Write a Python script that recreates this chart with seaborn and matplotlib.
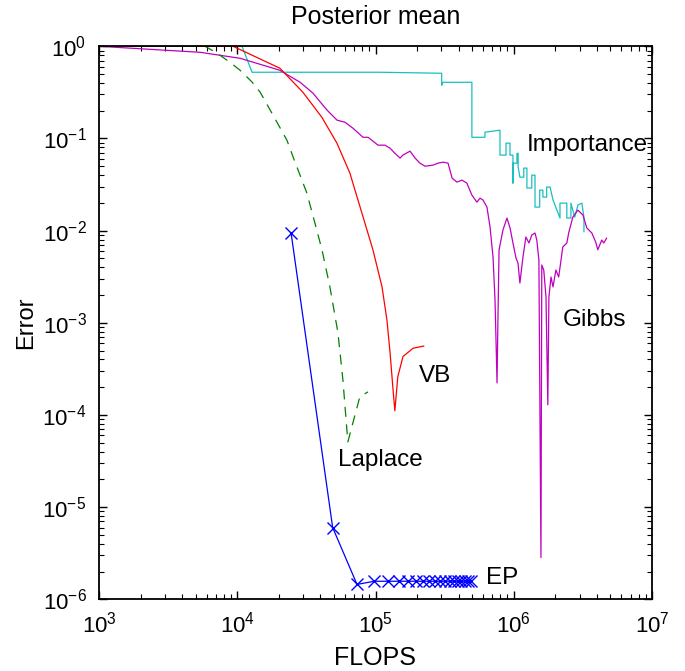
import matplotlib
matplotlib.use("Agg")
import matplotlib.pyplot as plt
from matplotlib.ticker import LogLocator, NullFormatter, FixedLocator
import seaborn as sns
import pandas as pd

# ---------------- data ----------------
ep_flops = [24500, 49000, 73500, 98000, 122500, 147000, 171500, 196000, 220500,
            245000, 269500, 294000, 318500, 343000, 367500, 392000, 416500,
            441000, 465500, 490000]
ep_err = [0.0095, 6.0e-6, 1.45e-6] + [1.57e-6] * 17

laplace_flops = [1000, 5860, 7160, 8870, 10470, 12780, 14640, 18150, 22850, 25350,
                 31900, 36450, 41000, 46800, 53500, 58100, 63100, 68600, 77100, 88200]
laplace_err = [1.0, 1.0, 0.84, 0.67, 0.55, 0.41, 0.318, 0.179, 0.096, 0.063,
               0.0255, 0.0121, 0.0062, 0.00245, 7.8e-4, 2.4e-4, 5.1e-5, 8.2e-5,
               1.58e-4, 1.78e-4]

vb_flops = [1000, 9330, 20350, 29800, 40900, 52600, 65300, 86700, 95800, 111500,
            121000, 127500, 133500, 138000, 145000, 158000, 187000, 224000]
vb_err = [1.0, 1.0, 0.578, 0.318, 0.17, 0.089, 0.042, 0.0102, 0.0062, 0.00245,
          1.07e-3, 4.7e-4, 2.0e-4, 1.11e-4, 2.6e-4, 4.3e-4, 5.3e-4, 5.6e-4]

imp_flops = [1000, 10830, 12800, 107500, 301000, 301000, 307000, 498000, 498000,
             619000, 619000, 795000, 795000, 879000, 879000, 939000, 939000,
             987000, 987000, 987000, 1.055e6, 1.055e6, 1.076e6, 1.076e6, 1.108e6,
             1.182e6, 1.182e6, 1.245e6, 1.245e6, 1.35e6, 1.35e6, 1.425e6, 1.425e6,
             1.54e6, 1.54e6, 1.625e6, 1.625e6, 1.73e6, 1.73e6, 1.83e6, 1.925e6,
             2.16e6, 2.16e6, 2.42e6, 2.42e6, 2.59e6, 2.59e6, 2.76e6, 2.91e6,
             3.11e6, 3.22e6, 3.22e6]
imp_err = [1.0, 1.0, 0.523, 0.523, 0.51, 0.378, 0.407, 0.407, 0.103,
           0.103, 0.117, 0.123, 0.066, 0.066, 0.089, 0.089, 0.066,
           0.066, 0.0328, 0.054, 0.054, 0.069, 0.069, 0.049, 0.038,
           0.038, 0.0477, 0.0477, 0.029, 0.029, 0.040, 0.040, 0.018,
           0.018, 0.0275, 0.0275, 0.0231, 0.0231, 0.0297, 0.0297, 0.0214,
           0.0137, 0.0199, 0.0199, 0.0137, 0.0137, 0.0199, 0.014, 0.0189,
           0.0199, 0.014, 0.0097]

gibbs_flops = [1000, 5380, 10500, 20300, 28500, 35300, 44600, 52700, 60200, 68800,
               81200, 88300, 104300, 116900, 127400, 137900, 150500, 157800,
               177800, 193600, 209300, 228300, 261000, 283000, 308500, 334800,
               358000, 388500, 422000, 458000, 498000, 541000, 570000, 599000,
               640000, 674000, 708000, 732000, 757000, 767000, 783000, 836000,
               893000, 940000, 987000, 1.038e6, 1.073e6, 1.108e6, 1.166e6,
               1.224e6, 1.288e6, 1.351e6, 1.425e6, 1.468e6, 1.52e6, 1.573e6,
               1.595e6, 1.648e6, 1.711e6, 1.764e6, 1.796e6, 1.86e6, 1.923e6,
               2.018e6, 2.113e6, 2.188e6, 2.262e6, 2.42e6, 2.505e6, 2.675e6,
               2.908e6, 3.163e6, 3.375e6, 3.672e6, 3.916e6, 4.054e6, 4.33e6,
               4.478e6, 4.70e6]
gibbs_err = [1.0, 0.861, 0.741, 0.55, 0.407, 0.31, 0.203, 0.158, 0.150, 0.129,
             0.103, 0.103, 0.0846, 0.0846, 0.0785, 0.0693, 0.0612, 0.066,
             0.0728, 0.0612, 0.054, 0.050, 0.0514, 0.054, 0.0553, 0.054,
             0.0372, 0.0336, 0.0353, 0.0328, 0.0243, 0.0204, 0.0225, 0.0215,
             0.018, 0.0109, 0.00518, 0.00177, 2.23e-4, 9.0e-4, 0.0062, 0.0102,
             0.0137, 0.0107, 0.00734, 0.00505, 0.00446, 0.0027, 0.00518,
             0.00853, 0.00734, 0.00896, 0.00942, 0.0079, 0.0048, 2.84e-6,
             0.00424, 0.00374, 0.00191, 1.29e-4, 0.00191, 0.00314, 0.00245,
             0.00374, 0.00314, 0.00457, 0.00664, 0.00734, 0.00966, 0.014,
             0.0167, 0.0148, 0.0107, 0.00942, 0.00752, 0.0062, 0.0079,
             0.00734, 0.0083]

labels = ["Importance", "Gibbs", "VB", "Laplace", "EP"]
label_x = [1.25e6, 2.27e6, 2.07e5, 5.36e4, 6.3e5]
label_y = [0.085, 0.00107, 2.65e-4, 3.25e-5, 1.7e-6]

x_major = [1e3, 1e4, 1e5, 1e6, 1e7]
y_major = [1e-6, 1e-5, 1e-4, 1e-3, 1e-2, 1e-1, 1e0]

title = "Posterior mean"
xlabel = "FLOPS"
ylabel = "Error"

# ---------------- style ----------------
sns.set_theme(style="white")
plt.rcParams["font.family"] = ["Liberation Sans", "DejaVu Sans"]
plt.rcParams["mathtext.fontset"] = "custom"
plt.rcParams["mathtext.rm"] = "Liberation Sans"
plt.rcParams["mathtext.it"] = "Liberation Sans:italic"
plt.rcParams["mathtext.bf"] = "Liberation Sans:bold"
plt.rcParams["xtick.color"] = "black"
plt.rcParams["ytick.color"] = "black"
plt.rcParams["text.color"] = "black"
plt.rcParams["axes.labelcolor"] = "black"

FS_TICK = 16
FS_TEXT = 17.5
fig = plt.figure(figsize=(6.85, 6.71), dpi=100)
ax = fig.add_axes([99 / 685, 1 - 599.3 / 671, (652 - 99) / 685, (599.3 - 46.3) / 671])

lw = 0.9
df_imp = pd.DataFrame({"x": imp_flops, "y": imp_err})
sns.lineplot(data=df_imp, x="x", y="y", ax=ax, sort=False, estimator=None,
             color=(0.1, 0.75, 0.75), lw=lw)
df_g = pd.DataFrame({"x": gibbs_flops, "y": gibbs_err})
sns.lineplot(data=df_g, x="x", y="y", ax=ax, sort=False, estimator=None,
             color=(0.75, 0.0, 0.75), lw=lw)
df_vb = pd.DataFrame({"x": vb_flops, "y": vb_err})
sns.lineplot(data=df_vb, x="x", y="y", ax=ax, sort=False, estimator=None,
             color=(1.0, 0.0, 0.0), lw=lw)
df_la = pd.DataFrame({"x": laplace_flops, "y": laplace_err})
sns.lineplot(data=df_la, x="x", y="y", ax=ax, sort=False, estimator=None,
             color=(0.0, 0.5, 0.0), lw=lw, linestyle=(0, (8, 6)))
df_ep = pd.DataFrame({"x": ep_flops, "y": ep_err})
sns.lineplot(data=df_ep, x="x", y="y", ax=ax, sort=False, estimator=None,
             color=(0.0, 0.0, 1.0), lw=lw, marker="x", markersize=8,
             markeredgewidth=1.0, markeredgecolor=(0.0, 0.0, 1.0))

ax.set_xscale("log")
ax.set_yscale("log")
ax.set_xlim(1e3, 1e7)
ax.set_ylim(1e-6, 1e0)
ax.xaxis.set_major_locator(FixedLocator(x_major))
ax.yaxis.set_major_locator(FixedLocator(y_major))
for axis in (ax.xaxis, ax.yaxis):
    axis.set_minor_locator(LogLocator(base=10, subs=[2, 3, 4, 5, 6, 7, 8, 9], numticks=200))
    axis.set_minor_formatter(NullFormatter())

for t, xx, yy in zip(labels, label_x, label_y):
    ax.text(xx, yy, t, fontsize=FS_TEXT, ha="left", va="center", color="black")

ax.set_title(title, fontsize=18, pad=16)
ax.set_xlabel(xlabel, fontsize=18, labelpad=6)
ax.set_ylabel(ylabel, fontsize=17, labelpad=4)

ax.tick_params(which="both", direction="in", top=True, right=True,
               bottom=True, left=True, labelsize=FS_TICK, color="black")
ax.tick_params(which="major", length=6, width=1.0, pad=9)
ax.tick_params(which="minor", length=3.5, width=0.8)
for s in ax.spines.values():
    s.set_visible(True)
    s.set_color("black")
    s.set_linewidth(1.3)
ax.grid(False)

fig.savefig("out.png", dpi=100, facecolor="white")
